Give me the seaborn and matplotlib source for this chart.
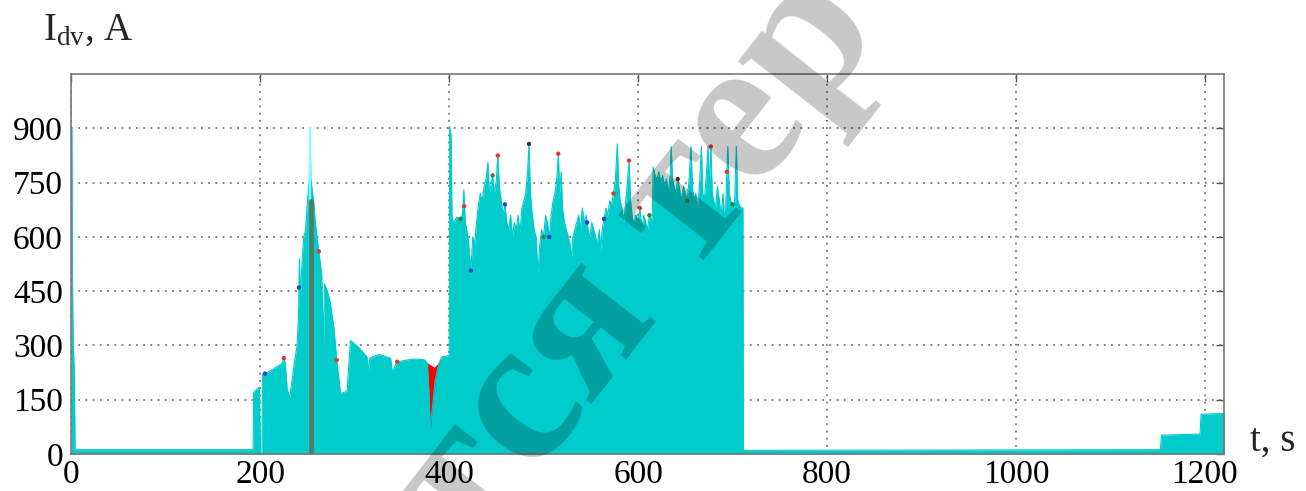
import numpy as np
import pandas as pd
import matplotlib
matplotlib.use("Agg")
import matplotlib.pyplot as plt
import seaborn as sns

# ---- data ----
time_s = [0, 0.6, 1.2, 2, 3, 4, 190, 192.5, 193, 196, 199, 200.2, 201.8, 202.3, 205, 212, 220, 223, 225,
          226.5, 228.5, 231, 233.5, 236, 239, 240.5, 241.5, 242.5, 244, 246, 248, 250, 252, 253, 253.5,
          256.5, 258, 260, 262, 263.7, 265, 267, 268, 270.8, 274, 277.9, 281, 285, 289, 292, 295.5,
          304, 313, 314.5, 316, 320, 326, 332, 338, 339.7, 342, 345, 352, 360, 368, 374, 377, 379, 380,
          382, 385, 388, 392, 399, 400,
          400.5, 402, 403, 405, 408, 411, 414, 415.5, 417, 420, 423, 425, 427, 429, 431, 433, 435, 437,
          439, 441, 442.5, 444, 446, 448, 450, 451.5, 453, 455, 457, 459, 461, 463, 465, 467, 469, 471,
          473, 475, 477, 479, 481, 483, 484.5, 486, 488, 490, 492, 494, 496, 498, 500, 502, 504, 506,
          508, 510, 512, 514, 515.5, 517, 518.5, 520, 522, 524, 526, 528, 529.5, 531, 533, 535, 537,
          539, 541, 543, 545, 547, 549, 551, 553, 555, 557, 559, 560.5, 562, 564, 566, 568, 570, 572,
          574, 576, 578, 579.5, 581, 583, 585, 587, 589, 590.5, 592, 594, 596, 598, 600, 602, 604, 606,
          608, 610, 612, 614, 615, 616, 618, 620, 622, 624, 626, 628, 630, 632, 634, 635, 636.5, 638,
          640, 642, 644, 646, 648, 650, 652, 654, 656, 657.5, 659, 661, 663, 665, 667, 668.5, 670, 672,
          674, 675.5, 677, 678.5, 680, 682, 684, 686, 688, 690, 692, 694, 695, 696.5, 698, 700, 702,
          704, 705.5, 707, 709, 711, 711.5,
          1153, 1154, 1195, 1196, 1222]
current_a = [900, 900, 490, 300, 240, 12, 12, 12, 170, 178, 185, 0, 0, 220, 222, 232, 245, 250, 265,
             250, 180, 155, 200, 250, 300, 380, 540, 420, 520, 600, 620, 700, 760, 900, 760,
             700, 650, 600, 560, 526, 500, 300, 470, 452, 420, 351, 260, 168, 170, 175, 314,
             295, 268, 230, 265, 270, 275, 270, 265, 227, 240, 255, 258, 262, 262, 260, 250, 150, 66,
             120, 200, 240, 268, 272, 272,
             905, 880, 650, 640, 655, 650, 660, 730, 640, 600, 507, 600, 580, 640, 690, 720, 700, 740,
             760, 806, 720, 740, 770, 720, 760, 825, 740, 700, 660, 690, 640, 620, 660, 600, 640, 620,
             660, 610, 680, 700, 720, 780, 857, 720, 660, 620, 600, 498, 580, 620, 600, 660, 640, 600,
             660, 700, 720, 760, 830, 720, 780, 680, 640, 620, 600, 580, 540, 600, 620, 640, 660,
             620, 680, 640, 660, 620, 600, 640, 620, 600, 580, 620, 560, 620, 650, 680, 660, 700, 690,
             720, 760, 857, 740, 700, 680, 640, 700, 760, 811, 700, 650, 640, 660, 640, 680, 620, 660,
             640, 620, 660, 640, 660, 793, 770, 760, 780, 750, 770, 740, 760, 720, 770, 850, 760, 740,
             720, 760, 730, 700, 740, 720, 700, 760, 850, 740, 700, 720, 680, 740, 850, 720, 700, 760,
             850, 740, 850, 720, 700, 680, 740, 700, 660, 720, 620, 780, 850, 720, 700, 690, 680,
             850, 700, 690, 680, 680, 10,
             12, 52, 55, 110, 112]

red_time = [372, 375, 378, 381, 384, 388, 391]
red_current = [262, 258, 250, 245, 240, 250, 262]
blue_time = [249, 251, 252.5, 254, 256]
blue_current = [600, 700, 811, 720, 650]
dark_time = [254.2, 254.2]
dark_current = [0, 700]
light_time = [252.6, 252.6]
light_current = [0, 900]

# small coloured samples of the other channels peeking over the cyan edge
dot_time = [205, 225, 241, 262, 281, 345, 412, 416, 423, 446, 451.5, 459, 484.5, 500, 506, 515.5,
            546, 564, 574, 590.5, 602, 612, 642, 652, 677, 694, 700]
dot_current = [222, 265, 460, 560, 260, 255, 650, 685, 507, 770, 825, 690, 857, 600, 600, 830,
               640, 650, 720, 811, 680, 660, 760, 700, 850, 780, 690]
dot_channel = ["blue", "red", "blue", "red", "red", "red", "green", "red", "blue", "green", "red",
               "blue", "dark", "green", "blue", "red", "blue", "blue", "red", "red", "red", "green",
               "dark", "green", "red", "red", "green"]

x_ticks = [0, 200, 400, 600, 800, 1000, 1200]
y_ticks = [0, 150, 300, 450, 600, 750, 900]

# ---- style ----
sns.set_theme(style="white")
plt.rcParams["font.family"] = ["Liberation Serif", "DejaVu Serif"]
plt.rcParams["mathtext.fontset"] = "custom"
plt.rcParams["mathtext.rm"] = "Liberation Serif"
plt.rcParams["mathtext.it"] = "Liberation Serif:italic"

fig = plt.figure(figsize=(13.06, 4.91), dpi=100)
ax = fig.add_axes([0.0546, 0.0754, 0.8824, 0.7736])

main = pd.DataFrame({"t": time_s, "I": current_a})
red = pd.DataFrame({"t": red_time, "I": red_current})
blue = pd.DataFrame({"t": blue_time, "I": blue_current})
dark = pd.DataFrame({"t": dark_time, "I": dark_current})
light = pd.DataFrame({"t": light_time, "I": light_current})
dots = pd.DataFrame({"t": dot_time, "I": dot_current, "ch": dot_channel})

cyan = "#00CCCC"
ax.fill_between(red["t"], red["I"], color="#FF0000", lw=0, zorder=2)
ax.fill_between(blue["t"], blue["I"], color="#1f4fd0", lw=0, zorder=2)
ax.fill_between(main["t"], main["I"], color=cyan, lw=0, zorder=3)
sns.lineplot(data=main, x="t", y="I", ax=ax, color=cyan, lw=0.8, zorder=4, sort=False, estimator=None)
sns.lineplot(data=light, x="t", y="I", ax=ax, color="#7FFFFF", lw=1.6, zorder=5, sort=False, estimator=None)
sns.lineplot(data=dark, x="t", y="I", ax=ax, color="#4a7f6a", lw=3.5, zorder=5, sort=False, estimator=None)
sns.scatterplot(data=dots, x="t", y="I", hue="ch", ax=ax, s=10, linewidth=0, legend=False, zorder=5,
                palette={"red": "#e03a2a", "blue": "#2244cc", "green": "#2a8a3a", "dark": "#5a2a2a"})

ax.set_xlim(0, 1220)
ax.set_ylim(0, 1050)
ax.set_xticks(x_ticks)
ax.set_yticks(y_ticks)
ax.set_xlabel("")
ax.set_ylabel("")
ax.tick_params(direction="in", length=6, width=1, colors="#555555", labelcolor="black",
               labelsize=24, top=True, right=True, pad=4)
ax.tick_params(axis="y", pad=6)
ax.grid(True, color="#777777", linestyle=(0, (1, 3)), linewidth=1.3)
for g in ax.get_xgridlines() + ax.get_ygridlines():
    g.set_zorder(3.5)
for sp in ax.spines.values():
    sp.set_color("#777777")
    sp.set_linewidth(1.2)
    sp.set_zorder(6)

fig.text(0.033, 0.92, r"I$_{\mathrm{dv}}$, A", fontsize=28, ha="left", va="baseline")
fig.text(0.957, 0.083, "t, s", fontsize=28, ha="left", va="baseline")

# watermark (cut by the picture edges, as in the reference)
fig.text(0.488, 0.46, "тся тер", fontsize=150, fontweight="bold", color="black", alpha=0.22,
         rotation=52, ha="center", va="center", rotation_mode="anchor", zorder=10)

fig.savefig("out.png", dpi=100)
